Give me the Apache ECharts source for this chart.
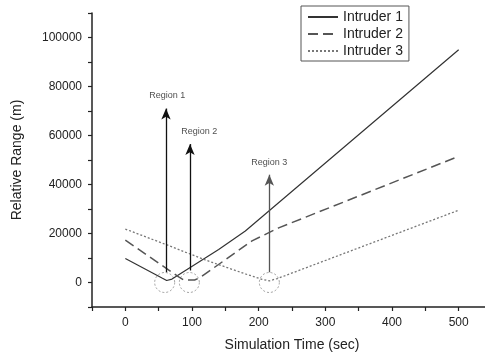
<!DOCTYPE html>
<html>
<head>
<meta charset="utf-8">
<script src="https://cdn.jsdelivr.net/npm/echarts@6/dist/echarts.min.js"></script>
<style>
  html, body { margin: 0; padding: 0; background: #fff; }
  #main { width: 485px; height: 355px; }
</style>
</head>
<body>
<div id="main"></div>
<script>
// data: [time (sec), range (m)]
var intruder1 = [[0, 9800], [55, 1800], [62, 800], [70, 1400], [140, 13500], [180, 21000], [500, 95000]];
var intruder2 = [[0, 17300], [80, 2300], [88, 1000], [104, 1000], [112, 2000], [190, 17000], [230, 22300], [500, 51500]];
var intruder3 = [[0, 21800], [60, 15600], [120, 9200], [180, 3500], [205, 1300], [216, 700], [228, 1600], [500, 29500]];

// annotation arrows: x, bottom, top
var regionNames = ['Region 1', 'Region 2', 'Region 3'];
var arrowX = [61, 97, 216];
var arrowFrom = [4200, 4900, 4200];
var arrowTo = [71000, 56500, 44000];
var arrowColors = ['#111', '#111', '#555'];
var labelX = [63, 111, 216];
var labelY = [76500, 61500, 49000];
// dotted circles round the minima
var circles = [[59, 0], [96, 0], [216, 0]];

var font = '"Liberation Sans", Arial, sans-serif';

var arrowLines = [];
for (var i = 0; i < arrowX.length; i++) {
    arrowLines.push([
        { coord: [arrowX[i], arrowFrom[i]], lineStyle: { color: arrowColors[i] } },
        { coord: [arrowX[i], arrowTo[i]] }
    ]);
}
var labelData = [];
for (var k = 0; k < regionNames.length; k++) {
    labelData.push({ value: [labelX[k], labelY[k]], name: regionNames[k] });
}

var chart = echarts.init(document.getElementById('main'));
var option = {
    animation: false,
    textStyle: { fontFamily: font },
    grid: { left: 92, right: -7, top: 13, bottom: 48, outerBoundsMode: 'none', containLabel: false },
    legend: {
        orient: 'vertical',
        left: 301,
        top: 6,
        padding: [4, 6, 3, 6],
        itemGap: 3,
        itemWidth: 30,
        itemHeight: 14,
        borderColor: '#555',
        borderWidth: 1,
        itemStyle: { opacity: 0 },
        textStyle: { fontSize: 14, color: '#222', fontFamily: font },
        data: ['Intruder 1', 'Intruder 2', 'Intruder 3']
    },
    xAxis: {
        type: 'value',
        min: -50,
        max: 550,
        interval: 50,
        name: 'Simulation Time (sec)',
        nameLocation: 'middle',
        nameGap: 31,
        nameTextStyle: { fontSize: 14, color: '#222' },
        splitLine: { show: false },
        axisLine: { onZero: false, lineStyle: { color: '#222', width: 1.5 } },
        axisTick: { length: 4, lineStyle: { color: '#222', width: 1.2 } },
        axisLabel: {
            fontSize: 12, color: '#222', margin: 10,
            formatter: function (v) { return (v % 100 === 0 && v >= 0 && v <= 500) ? String(v) : ''; }
        }
    },
    yAxis: {
        type: 'value',
        min: -10000,
        max: 110000,
        interval: 10000,
        name: 'Relative Range (m)',
        nameLocation: 'middle',
        nameGap: 68,
        nameTextStyle: { fontSize: 14, color: '#222' },
        splitLine: { show: false },
        axisLine: { show: true, onZero: false, lineStyle: { color: '#222', width: 1.5 } },
        axisTick: { show: true, length: 4, lineStyle: { color: '#222', width: 1.2 } },
        axisLabel: {
            fontSize: 12, color: '#222', margin: 10,
            formatter: function (v) { return (v % 20000 === 0 && v >= 0 && v <= 100000) ? String(v) : ''; }
        }
    },
    series: [
        {
            name: 'Intruder 1',
            type: 'line',
            symbol: 'none',
            lineStyle: { color: '#333', width: 1.2, type: 'solid' },
            itemStyle: { color: '#333' },
            data: intruder1,
            markLine: {
                silent: true,
                symbol: ['none', 'arrow'],
                symbolSize: [7, 11],
                label: { show: false },
                lineStyle: { type: 'solid', width: 1.3, color: '#111' },
                data: arrowLines
            }
        },
        {
            name: 'Intruder 2',
            type: 'line',
            symbol: 'none',
            lineStyle: { color: '#555', width: 1.5, type: [10, 5] },
            itemStyle: { color: '#555' },
            data: intruder2
        },
        {
            name: 'Intruder 3',
            type: 'line',
            symbol: 'none',
            lineStyle: { color: '#777', width: 1.3, type: [2, 2] },
            itemStyle: { color: '#777' },
            data: intruder3
        },
        {
            name: 'circles',
            type: 'scatter',
            symbol: 'circle',
            symbolSize: 20,
            silent: true,
            itemStyle: { color: 'rgba(0,0,0,0)', borderColor: '#888', borderWidth: 1, borderType: [2, 2] },
            data: circles
        },
        {
            name: 'labels',
            type: 'scatter',
            symbolSize: 0,
            silent: true,
            label: {
                show: true,
                position: 'inside',
                fontSize: 9,
                color: '#222',
                formatter: function (p) { return p.name; }
            },
            data: labelData
        }
    ]
};
chart.setOption(option);
</script>
</body>
</html>
